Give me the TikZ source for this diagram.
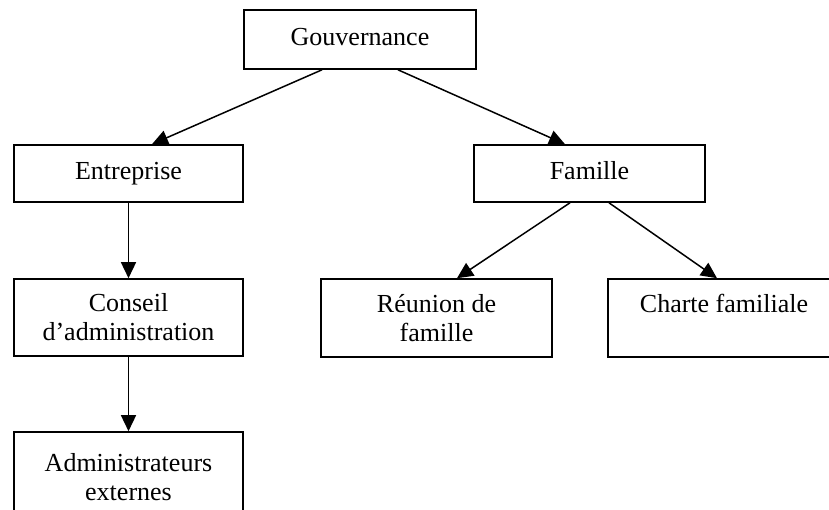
\documentclass[tikz,border=0pt]{standalone}
\usepackage{fontspec}
\setmainfont{Liberation Serif}
\usetikzlibrary{arrows.meta,calc}
\tikzset{
  boxnode/.style={draw, line width=1.6pt, rectangle, inner sep=0pt, align=center,
    font=\fontsize{26}{29}\selectfont},
  oneline/.style={text height=17pt, text depth=6pt},
  link/.style={line width=1.5pt, -{Triangle[length=16pt,width=15pt]}}
}
\begin{document}
\begin{tikzpicture}[x=1pt,y=-1pt]
\clip (0,0) rectangle (829,509);
\node[boxnode, oneline, minimum width=232pt, minimum height=59pt] (gouv) at (360,39.5) {Gouvernance};
\node[boxnode, oneline, minimum width=229pt, minimum height=57pt] (entr) at (128.5,173.5) {Entreprise};
\node[boxnode, oneline, minimum width=231pt, minimum height=57pt] (fam) at (589.5,173.5) {Famille};
\node[boxnode, minimum width=229pt, minimum height=77pt] (cons) at (128.5,317.5) {Conseil\\d’administration};
\node[boxnode, minimum width=231pt, minimum height=78pt] (reun) at (436.5,318) {Réunion de\\famille};
\node[boxnode, minimum width=232pt, minimum height=78pt] (chart) at (724,318) {Charte familiale\\\phantom{x}};
\node[boxnode, minimum width=229pt, minimum height=90pt] (admin) at (128.5,477) {Administrateurs\\externes};
\draw[link] ($(gouv.south)+(-38,0)$) -- ($(entr.north)+(23.5,0)$);
\draw[link] ($(gouv.south)+(38,0)$) -- ($(fam.north)+(-24.5,0)$);
\draw[link] (entr.south) -- (cons.north);
\draw[link] (cons.south) -- (admin.north);
\draw[link] ($(fam.south)+(-19.5,0)$) -- ($(reun.north)+(20.5,0)$);
\draw[link] ($(fam.south)+(19.5,0)$) -- ($(chart.north)+(-7,0)$);
\end{tikzpicture}
\end{document}
